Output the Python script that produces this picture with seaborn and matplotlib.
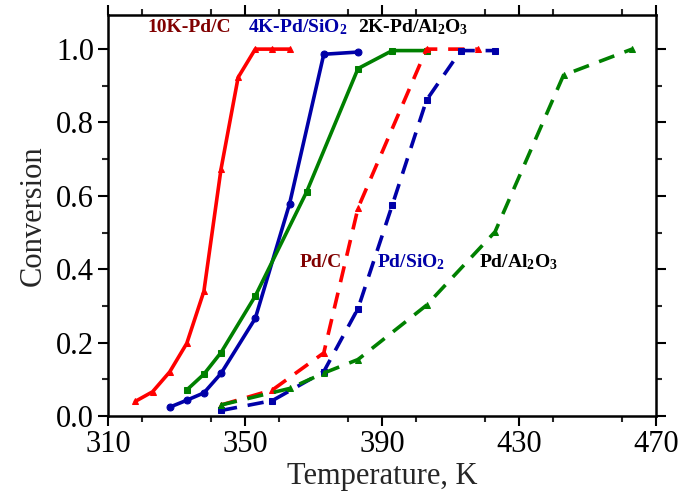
import matplotlib
matplotlib.use("Agg")
import matplotlib.pyplot as plt
from matplotlib.ticker import MultipleLocator
import seaborn as sns
import pandas as pd

# Light-off curves: temperature (K) vs. conversion
t_10k_pdc = [318, 323, 328, 333, 338, 343, 348, 353, 358, 363]
c_10k_pdc = [0.04, 0.066, 0.12, 0.198, 0.34, 0.673, 0.923, 1.0, 1.0, 1.0]

t_4k_pdsio2 = [328, 333, 338, 343, 353, 363, 373, 383]
c_4k_pdsio2 = [0.024, 0.043, 0.063, 0.116, 0.266, 0.578, 0.986, 0.992]

t_2k_pdal2o3 = [333, 338, 343, 353, 368, 383, 393, 403]
c_2k_pdal2o3 = [0.071, 0.114, 0.173, 0.327, 0.611, 0.947, 0.996, 0.996]

t_pdc = [343, 358, 373, 383, 403, 418]
c_pdc = [0.03, 0.071, 0.172, 0.567, 1.0, 1.0]

t_pdsio2 = [343, 358, 373, 383, 393, 403, 413, 423]
c_pdsio2 = [0.015, 0.042, 0.121, 0.293, 0.575, 0.861, 0.996, 0.996]

t_pdal2o3 = [343, 363, 373, 383, 403, 423, 443, 463]
c_pdal2o3 = [0.03, 0.075, 0.117, 0.154, 0.302, 0.502, 0.929, 1.0]

x_ticks = [310, 350, 390, 430, 470]
y_ticks = [0.0, 0.2, 0.4, 0.6, 0.8, 1.0]

RED = "#ff0000"
BLUE = "#0000a8"
GREEN = "#008000"
DARKRED = "#800000"

sns.set_style("ticks")
plt.rcParams["font.family"] = ["Liberation Serif", "DejaVu Serif"]
plt.rcParams["mathtext.fontset"] = "custom"
plt.rcParams["mathtext.rm"] = "Liberation Serif:bold"
plt.rcParams["mathtext.bf"] = "Liberation Serif:bold"
plt.rcParams["mathtext.default"] = "bf"

fig = plt.figure(figsize=(6.8, 4.92), dpi=100)
ax = fig.add_axes([108 / 680, 76 / 492, 548 / 680, 401 / 492])

series = [
    (t_10k_pdc, c_10k_pdc, RED, "-", "^"),
    (t_4k_pdsio2, c_4k_pdsio2, BLUE, "-", "o"),
    (t_2k_pdal2o3, c_2k_pdal2o3, GREEN, "-", "s"),
    (t_pdc, c_pdc, RED, "--", "^"),
    (t_pdsio2, c_pdsio2, BLUE, "--", "s"),
    (t_pdal2o3, c_pdal2o3, GREEN, "--", "^"),
]

for t, c, col, ls, mk in series:
    df = pd.DataFrame({"T": t, "X": c})
    line_kw = dict(color=col, linewidth=2.6, marker=mk, markersize=5,
                   markeredgecolor=col, markerfacecolor=col)
    if ls == "--":
        line_kw["dashes"] = (4.5, 3.0)
    sns.lineplot(data=df, x="T", y="X", ax=ax, sort=False, **line_kw)

ax.set_xlim(310, 470)
ax.set_ylim(0, 1.093)
ax.set_xticks(x_ticks)
ax.set_yticks(y_ticks)
ax.set_yticklabels([f"{v:.1f}" for v in y_ticks])
ax.xaxis.set_minor_locator(MultipleLocator(20))
ax.yaxis.set_minor_locator(MultipleLocator(0.1))

ax.tick_params(axis="both", which="major", direction="out", length=7, width=1.5,
               labelsize=22, pad=3, color="black", labelcolor="black")
ax.tick_params(axis="both", which="minor", direction="out", length=4, width=1.5)
ax.tick_params(axis="both", which="both", top=True, right=True)
for side in ("top", "right"):
    pass

for sp in ax.spines.values():
    sp.set_linewidth(1.8)
    sp.set_color("black")

ax.set_xlabel("Temperature, K", fontsize=22, labelpad=2)
ax.set_ylabel("Conversion", fontsize=22, labelpad=6)

ann = dict(fontsize=14, fontweight="bold", va="baseline", ha="left")
ax.text(321.5, 1.046, "10K-Pd/C", color=DARKRED, **ann)
ax.text(350.9, 1.046, r"4K-Pd/SiO$_2$", color=BLUE, **ann)
ax.text(383.0, 1.046, r"2K-Pd/Al$_2$O$_3$", color="black", **ann)
ax.text(366.0, 0.406, "Pd/C", color=DARKRED, **ann)
ax.text(388.5, 0.406, r"Pd/SiO$_2$", color=BLUE, **ann)
ax.text(418.3, 0.406, r"Pd/Al$_2$O$_3$", color="black", **ann)

fig.savefig("out.png", dpi=100)
